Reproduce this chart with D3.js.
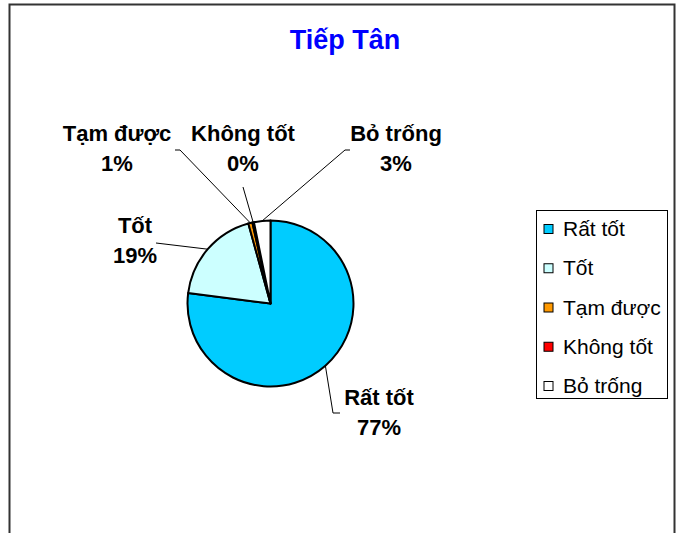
<!DOCTYPE html>
<html>
<head>
<meta charset="utf-8">
<script src="https://cdn.jsdelivr.net/npm/d3@7"></script>
<style>
  body { margin: 0; background: #fff; }
  text { font-family: "Liberation Sans", Arial, sans-serif; }
</style>
</head>
<body>
<svg id="chart" width="676" height="533"></svg>
<script>
// data (percent of answers)
var categories = ["Rất tốt", "Tốt", "Tạm được", "Không tốt", "Bỏ trống"];
var values = [77.0, 18.7, 0.8, 0.3, 3.2];
var colors = ["#00CCFF", "#CCFFFF", "#FF9900", "#FF0000", "#FFFFFF"];

// where each outside label sits: [center x, first baseline y]
var labelPos = [[379, 405], [135, 233], [117, 141], [243, 141], [396, 141]];
// leader line end near label, and optional short horizontal tail
var leaderEnd = [[333, 413, 340], [156, 243, null], [180, 150, 175], [243, 187, null], [345, 150, 350]];

const main = function() {
  var svg = d3.select('#chart');
  var cx = 270.5, cy = 303.5, r = 83;

  // outer frame
  svg.append("rect")
    .attr("x", 9.5).attr("y", 4.5)
    .attr("width", 665).attr("height", 560)
    .attr("fill", "#fff")
    .attr("stroke", "#333")
    .attr("stroke-width", 2);

  svg.append("text")
    .attr("x", 345).attr("y", 49)
    .attr("text-anchor", "middle")
    .attr("font-size", 27)
    .attr("font-weight", "bold")
    .attr("fill", "#0000FF")
    .text("Tiếp Tân");

  var total = d3.sum(values);
  var pie = d3.pie().sort(null).value(function(d) { return d.v; });
  var arcs = pie(values.map(function(v, i) { return { v: v, i: i }; }));
  var arc = d3.arc().innerRadius(0).outerRadius(r);

  var g = svg.append("g").attr("transform", "translate(" + cx + "," + cy + ")");
  g.selectAll("path")
    .data(arcs)
    .enter().append("path")
    .attr("d", arc)
    .attr("fill", function(d) { return colors[d.data.i]; })
    .attr("stroke", "#000")
    .attr("stroke-width", 2)
    .attr("stroke-linejoin", "round");

  // leader lines
  arcs.forEach(function(d, i) {
    var a = (d.startAngle + d.endAngle) / 2;
    var px = cx + r * Math.sin(a), py = cy - r * Math.cos(a);
    var e = leaderEnd[i];
    var pts = [[px, py], [e[0], e[1]]];
    if (e[2] !== null) pts.push([e[2], e[1]]);
    svg.append("path")
      .attr("d", d3.line()(pts))
      .attr("fill", "none")
      .attr("stroke", "#000")
      .attr("stroke-width", 1);
  });

  // labels
  arcs.forEach(function(d, i) {
    var t = svg.append("text")
      .attr("text-anchor", "middle")
      .attr("font-size", 22)
      .attr("font-weight", "bold")
      .attr("fill", "#000");
    t.append("tspan").attr("x", labelPos[i][0]).attr("y", labelPos[i][1]).text(categories[i]);
    t.append("tspan").attr("x", labelPos[i][0]).attr("y", labelPos[i][1] + 30)
      .text(Math.round(d.data.v / total * 100) + "%");
  });

  // legend
  svg.append("rect")
    .attr("x", 536.5).attr("y", 210.5)
    .attr("width", 131).attr("height", 188)
    .attr("fill", "#fff")
    .attr("stroke", "#000")
    .attr("stroke-width", 1);

  var y = d3.scalePoint().domain(categories).range([229, 386]);
  var items = svg.selectAll(".leg").data(categories).enter().append("g").attr("class", "leg");
  items.append("rect")
    .attr("x", 544).attr("y", function(d) { return y(d) - 4.5; })
    .attr("width", 9).attr("height", 9)
    .attr("fill", function(d, i) { return colors[i]; })
    .attr("stroke", "#000")
    .attr("stroke-width", 1);
  items.append("text")
    .attr("x", 563).attr("y", function(d) { return y(d) + 7; })
    .attr("font-size", 21)
    .attr("fill", "#000")
    .text(function(d) { return d; });
};

main();
</script>
</body>
</html>
